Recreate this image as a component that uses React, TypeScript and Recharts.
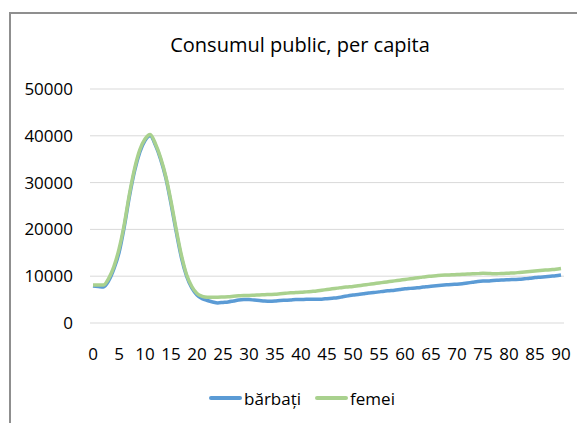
import { CartesianGrid, Legend, Line, LineChart, XAxis, YAxis } from "recharts";

const ages = [
  0, 1, 2, 3, 4, 5, 6, 7, 8, 9, 10, 11, 12, 13, 14, 15, 16, 17, 18, 19, 20,
  21, 22, 23, 24, 25, 26, 27, 28, 29, 30, 31, 32, 33, 34, 35, 36, 37, 38, 39,
  40, 41, 42, 43, 44, 45, 46, 47, 48, 49, 50, 51, 52, 53, 54, 55, 56, 57, 58,
  59, 60, 61, 62, 63, 64, 65, 66, 67, 68, 69, 70, 71, 72, 73, 74, 75, 76, 77,
  78, 79, 80, 81, 82, 83, 84, 85, 86, 87, 88, 89, 90,
];

const barbati = [
  7900, 7800, 7700, 9000, 11500, 15000, 20500, 27000, 32500, 36500, 39000,
  40000, 38000, 35000, 31000, 25500, 19500, 14000, 10000, 7500, 6000, 5200,
  4800, 4500, 4300, 4400, 4500, 4700, 4900, 5000, 5000, 4900, 4800, 4700,
  4650, 4700, 4800, 4850, 4900, 5000, 5000, 5050, 5050, 5100, 5100, 5200,
  5300, 5400, 5600, 5800, 6000, 6100, 6250, 6400, 6500, 6650, 6800, 6900,
  7000, 7150, 7300, 7400, 7500, 7600, 7750, 7850, 7950, 8050, 8150, 8250,
  8300, 8400, 8550, 8700, 8850, 8950, 9000, 9100, 9150, 9200, 9250, 9300,
  9350, 9450, 9550, 9700, 9800, 9900, 10000, 10100, 10250,
];

const femei = [
  8100, 8100, 8100, 9500, 12000, 15800, 21000, 27500, 33000, 37000, 39300,
  40300, 38300, 35300, 31300, 26000, 20000, 14500, 10300, 7800, 6300, 5700,
  5500, 5500, 5500, 5550, 5600, 5700, 5800, 5900, 5900, 5950, 6000, 6050,
  6100, 6150, 6250, 6350, 6450, 6500, 6550, 6650, 6750, 6850, 7000, 7150,
  7300, 7450, 7600, 7700, 7800, 7950, 8100, 8250, 8400, 8550, 8700, 8850,
  9000, 9150, 9300, 9450, 9600, 9750, 9900, 10000, 10100, 10200, 10250,
  10300, 10350, 10400, 10450, 10500, 10550, 10650, 10600, 10500, 10550, 10600,
  10650, 10700, 10800, 10900, 11000, 11100, 11200, 11300, 11400, 11500, 11650,
];

const yTicks = [0, 10000, 20000, 30000, 40000, 50000];

const data = ages.map((age, i) => ({
  age,
  barbati: barbati[i],
  femei: femei[i],
}));

const FONT = "'Open Sans', sans-serif";
const BLUE = "#5B9BD5";
const GREEN = "#A9D18E";

function LegendContent() {
  const item = (color: string, label: string) => (
    <div style={{ display: "flex", alignItems: "center", marginRight: 14 }}>
      <div style={{ width: 33, height: 4, background: color, borderRadius: 2 }} />
      <span style={{ marginLeft: 2 }}>{label}</span>
    </div>
  );
  return (
    <div
      style={{
        height: 30,
        display: "flex",
        justifyContent: "center",
        alignItems: "center",
        marginLeft: 54,
        fontFamily: FONT,
        fontSize: 17,
        color: "#000",
      }}
    >
      {item(BLUE, "bărbați")}
      {item(GREEN, "femei")}
    </div>
  );
}

export default function App() {
  return (
    <div
      style={{
        position: "absolute",
        left: 0,
        top: 0,
        width: 577,
        height: 423,
        background: "#fff",
        overflow: "hidden",
      }}
    >
      <div
        style={{
          position: "absolute",
          left: 9,
          top: 12,
          width: 600,
          height: 450,
          border: "2px solid #8f8f8f",
        }}
      />
      <div
        style={{
          position: "absolute",
          left: 0,
          width: 600,
          top: 31,
          textAlign: "center",
          fontFamily: FONT,
          fontSize: 20,
          color: "#000",
        }}
      >
        Consumul public, per capita
      </div>
      <div style={{ position: "absolute", left: 0, top: 0 }}>
        <LineChart
          width={577}
          height={423}
          data={data}
          margin={{ top: 89, right: 13, left: 0, bottom: 10 }}
        >
          <CartesianGrid vertical={false} stroke="#d9d9d9" />
          <XAxis
            dataKey="age"
            interval={4}
            height={60}
            padding={{ left: 3, right: 3 }}
            axisLine={false}
            tickLine={false}
            tickSize={0}
            tickMargin={25}
            tick={{ fontSize: 17, fill: "#000", fontFamily: FONT }}
          />
          <YAxis
            width={90}
            domain={[0, 50000]}
            ticks={yTicks}
            axisLine={false}
            tickLine={false}
            tickSize={0}
            tickMargin={17}
            tick={{ fontSize: 17, fill: "#000", fontFamily: FONT }}
          />
          <Legend verticalAlign="bottom" content={<LegendContent />} />
          <Line
            type="monotone"
            dataKey="barbati"
            name="bărbați"
            stroke={BLUE}
            strokeWidth={3.5}
            dot={false}
            isAnimationActive={false}
          />
          <Line
            type="monotone"
            dataKey="femei"
            name="femei"
            stroke={GREEN}
            strokeWidth={3.5}
            dot={false}
            isAnimationActive={false}
          />
        </LineChart>
      </div>
    </div>
  );
}
